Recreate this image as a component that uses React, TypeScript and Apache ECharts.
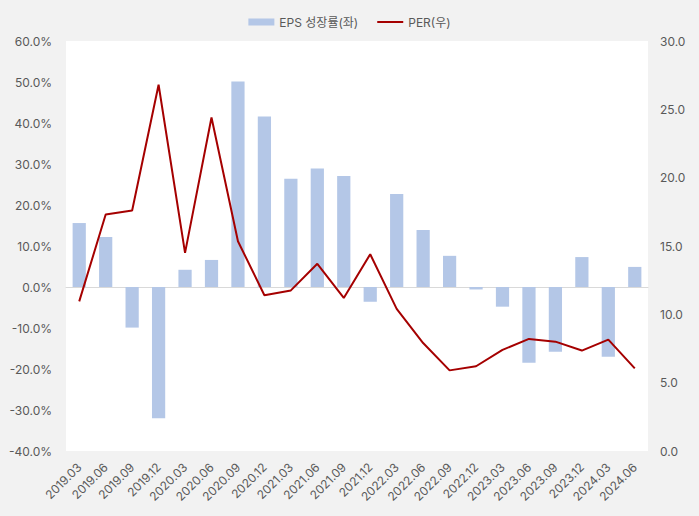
import React, { useEffect, useRef } from "react";
import * as echarts from "echarts";

const categories = [
  "2019.03", "2019.06", "2019.09", "2019.12", "2020.03", "2020.06", "2020.09", "2020.12",
  "2021.03", "2021.06", "2021.09", "2021.12", "2022.03", "2022.06", "2022.09", "2022.12",
  "2023.03", "2023.06", "2023.09", "2023.12", "2024.03", "2024.06",
];
const epsGrowth = [
  15.6, 12.2, -9.9, -32.0, 4.2, 6.6, 50.1, 41.6, 26.4, 28.9, 27.1, -3.6, 22.7, 13.9, 7.6, -0.6,
  -4.8, -18.5, -15.8, 7.3, -17.0, 4.9,
];
const per = [
  10.95, 17.3, 17.6, 26.8, 14.5, 24.4, 15.35, 11.4, 11.75, 13.7, 11.2, 14.4, 10.4, 7.9, 5.9, 6.2,
  7.4, 8.2, 8.0, 7.35, 8.15, 6.05,
];
const seriesNames = ["EPS 성장률(좌)", "PER(우)"];

const FONT = "Inter, 'Noto Sans CJK KR', sans-serif";
const TEXT = "#595959";

export default function App() {
  const ref = useRef<HTMLDivElement>(null);
  useEffect(() => {
    if (!ref.current) return;
    const chart = echarts.init(ref.current, undefined, { renderer: "svg" });
    chart.setOption({
      animation: false,
      backgroundColor: "#f2f2f2",
      textStyle: { fontFamily: FONT },
      legend: {
        top: 11,
        left: "center",
        itemGap: 18,
        itemWidth: 26,
        itemHeight: 7,
        textStyle: { color: TEXT, fontSize: 12, fontFamily: FONT },
        data: [
          { name: seriesNames[0], icon: "rect" },
          { name: seriesNames[1], itemStyle: { color: "rgba(0,0,0,0)", borderWidth: 0, opacity: 0 } },
        ],
      },
      grid: {
        left: 66,
        right: 51,
        top: 41,
        bottom: 65,
        show: true,
        backgroundColor: "#ffffff",
        borderWidth: 0,
        outerBoundsMode: "none",
      },
      xAxis: {
        type: "category",
        data: categories,
        axisLine: { onZero: true, lineStyle: { color: "#d9d9d9", width: 1 } },
        axisTick: { show: false },
        axisLabel: {
          rotate: 45,
          interval: 0,
          color: TEXT,
          fontSize: 12,
          fontFamily: FONT,
          margin: 14,
        },
      },
      yAxis: [
        {
          type: "value",
          min: -40,
          max: 60,
          interval: 10,
          splitLine: { show: false },
          axisLine: { show: false },
          axisTick: { show: false },
          axisLabel: {
            color: TEXT,
            fontSize: 12,
            fontFamily: FONT,
            margin: 14,
            formatter: (v: number) => `${v.toFixed(1)}%`,
          },
        },
        {
          type: "value",
          min: 0,
          max: 30,
          interval: 5,
          splitLine: { show: false },
          axisLine: { show: false },
          axisTick: { show: false },
          axisLabel: {
            color: TEXT,
            fontSize: 12,
            fontFamily: FONT,
            margin: 12,
            formatter: (v: number) => v.toFixed(1),
          },
        },
      ],
      series: [
        {
          name: seriesNames[0],
          type: "bar",
          yAxisIndex: 0,
          data: epsGrowth,
          barWidth: "50%",
          itemStyle: { color: "#b4c7e7" },
        },
        {
          name: seriesNames[1],
          type: "line",
          yAxisIndex: 1,
          data: per,
          symbol: "none",
          lineStyle: { color: "#a50000", width: 2 },
          itemStyle: { color: "#a50000" },
        },
      ],
    });
    return () => chart.dispose();
  }, []);
  return (
    <div
      ref={ref}
      style={{ position: "fixed", left: 0, top: 0, width: 699, height: 516 }}
    />
  );
}
